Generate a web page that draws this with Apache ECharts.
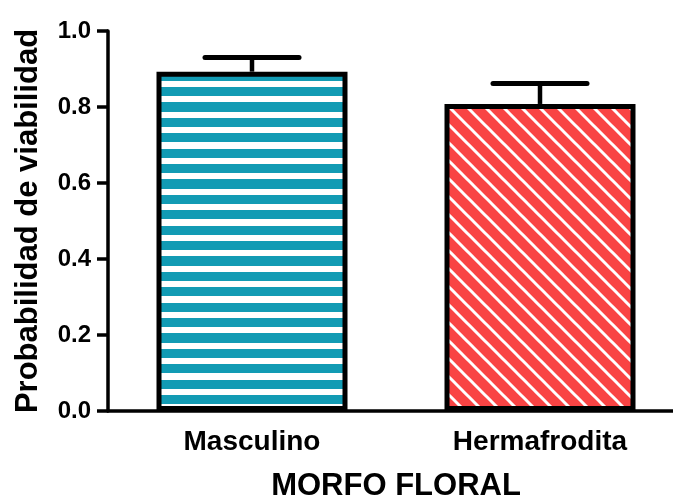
<!DOCTYPE html>
<html>
<head>
<meta charset="utf-8">
<script src="https://cdn.jsdelivr.net/npm/echarts@6/dist/echarts.min.js"></script>
<style>html,body{margin:0;padding:0;background:#fff}#c{width:673px;height:500px}</style>
</head>
<body>
<div id="c"></div>
<script>
const categories = ['Masculino', 'Hermafrodita'];
const means = [0.893, 0.808];
const upper = [0.930, 0.862];
const yTicks = [0, 0.2, 0.4, 0.6, 0.8, 1.0];

function stripes() {
  const w = 16, h = 77, p = 15.4, t = 9.2, start = 10;
  const c = document.createElement('canvas');
  c.width = w; c.height = h;
  const g = c.getContext('2d');
  g.fillStyle = '#ffffff'; g.fillRect(0, 0, w, h);
  g.fillStyle = '#129BB4';
  for (let k = -1; k < 6; k++) {
    const y0 = Math.round(start + p * k);
    const y1 = Math.round(start + p * k + t);
    g.fillRect(0, y0, w, y1 - y0);
  }
  return c;
}
function hatch() {
  const s = 18;
  const c = document.createElement('canvas');
  c.width = s; c.height = s;
  const g = c.getContext('2d');
  g.fillStyle = '#F94444'; g.fillRect(0, 0, s, s);
  g.strokeStyle = '#ffffff'; g.lineWidth = 3;
  [[0, 0], [s, 0], [-s, 0]].forEach(function (o) {
    g.beginPath();
    g.moveTo(o[0] - 2, -2);
    g.lineTo(o[0] + s + 2, s + 2);
    g.stroke();
  });
  return c;
}
const fills = [{ image: stripes(), repeat: 'repeat' }, { image: hatch(), repeat: 'repeat' }];

const font = 'Liberation Sans, Arial, sans-serif';
const chart = echarts.init(document.getElementById('c'), null, { renderer: 'canvas' });
chart.setOption({
  animation: false,
  grid: { left: 108, width: 576, top: 31, height: 380, outerBoundsMode: 'none', containLabel: false },
  xAxis: {
    type: 'category',
    data: categories,
    name: 'MORFO FLORAL',
    nameLocation: 'middle',
    nameGap: 60,
    nameTextStyle: { fontFamily: font, fontWeight: 'bold', fontSize: 31, color: '#000' },
    axisLine: { lineStyle: { color: '#000', width: 3.5 } },
    axisTick: { alignWithLabel: true, length: 10, lineStyle: { color: '#000', width: 3.5 } },
    axisLabel: { fontFamily: font, fontWeight: 'bold', fontSize: 28, color: '#000', margin: 17 },
    z: 10
  },
  yAxis: {
    type: 'value',
    min: 0, max: 1, interval: 0.2,
    name: 'Probabilidad de viabilidad',
    nameLocation: 'middle',
    nameGap: 64,
    nameRotate: 90,
    nameTextStyle: { fontFamily: font, fontWeight: 'bold', fontSize: 31, color: '#000' },
    splitLine: { show: false },
    axisLine: { show: true, lineStyle: { color: '#000', width: 3.5 } },
    axisTick: { show: true, length: 11, lineStyle: { color: '#000', width: 3.5 } },
    axisLabel: {
      fontFamily: font, fontWeight: 'bold', fontSize: 24, color: '#000', margin: 17,
      formatter: function (v) { return v.toFixed(1); }
    }
  },
  series: [
    {
      type: 'bar',
      barWidth: 191,
      data: means.map(function (v, i) {
        return { value: v, itemStyle: { color: fills[i], borderColor: '#000', borderWidth: 5 } };
      })
    },
    {
      type: 'custom',
      data: categories.map(function (c, i) { return [i, means[i], upper[i]]; }),
      renderItem: function (params, api) {
        const top = api.coord([api.value(0), api.value(2)]);
        const base = api.coord([api.value(0), api.value(1)]);
        const half = 47;
        const st = { stroke: '#000', lineWidth: 5, lineCap: 'round' };
        return {
          type: 'group',
          children: [
            { type: 'line', shape: { x1: top[0], y1: base[1], x2: top[0], y2: top[1] }, style: { stroke: '#000', lineWidth: 4.5 } },
            { type: 'line', shape: { x1: top[0] - half, y1: top[1], x2: top[0] + half, y2: top[1] }, style: st }
          ]
        };
      },
      z: 5
    }
  ]
});
</script>
</body>
</html>
